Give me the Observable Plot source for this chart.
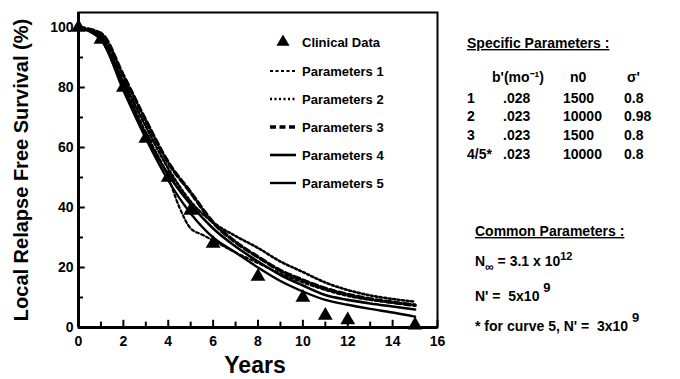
<!DOCTYPE html>
<html>
<head>
<meta charset="utf-8">
<script src="https://cdn.jsdelivr.net/npm/d3@7"></script>
<script src="https://cdn.jsdelivr.net/npm/@observablehq/plot@0.6"></script>
<style>
  html, body { margin: 0; padding: 0; background: #fff; }
  svg { display: block; }
</style>
</head>
<body>
<div id="chart"></div>
<script>
// ---- Data ----
const majorXTicks = [0, 2, 4, 6, 8, 10, 12, 14, 16];
const minorXTicks = [1, 3, 5, 7, 9, 11, 13, 15];
const majorYTicks = [0, 20, 40, 60, 80, 100];
const minorYTicks = [10, 30, 50, 70, 90];

const clinicalYears = [0, 1, 2, 3, 4, 5, 6, 8, 10, 11, 12, 15];
const clinicalSurvival = [100, 96, 80, 63, 50, 39, 28, 17, 10, 4, 2.5, 0.8];

const curveYears = [0, 1, 2, 3, 4, 5, 6, 7, 8, 9, 10, 11, 12, 13, 14, 15];
const p1Years = [0, 1, 2, 3, 4, 4.5, 5, 5.5, 6, 7, 8, 9, 10, 11, 12, 13, 14, 15];
const p1Survival = [100, 96, 81, 65, 50, 40, 33, 31, 29, 25, 21.5, 18, 15, 12.5, 10.5, 9.2, 8.3, 7.6];
const p2Survival = [100, 97, 82, 67, 53, 42, 35, 30.5, 26.5, 22, 18.5, 15, 12.5, 10.7, 9.5, 8.6];
const p3Survival = [100, 98, 84, 69, 55, 45, 35, 28.5, 23.5, 19, 15.8, 13, 11, 9.5, 8.4, 7.4];
const p4Survival = [100, 96, 80, 64, 51, 41, 33, 27, 22, 17.5, 14, 10.8, 9.2, 8, 7, 6];
const p5Survival = [100, 96, 79, 63, 49, 38, 30, 25, 20, 15.5, 12, 9.2, 7.6, 6.2, 5, 3.6];

const seriesNames = ["Parameters 1", "Parameters 2", "Parameters 3", "Parameters 4", "Parameters 5"];

const specHeader = ["b'(mo\u207B\u00B9)", "n0", "\u03C3'"];
const specRows = ["1", "2", "3", "4/5*"];
const specB = [".028", ".023", ".023", ".023"];
const specN0 = ["1500", "10000", "1500", "10000"];
const specSigma = ["0.8", "0.98", "0.8", "0.8"];

// ---- Build tables ----
const clinical = clinicalYears.map((x, i) => ({x, y: clinicalSurvival[i]}));
const toRows = (xs, ys) => xs.map((x, i) => ({x, y: ys[i]}));
const curves = [
  toRows(p1Years, p1Survival),
  toRows(curveYears, p2Survival),
  toRows(curveYears, p3Survival),
  toRows(curveYears, p4Survival),
  toRows(curveYears, p5Survival)
];

const styles = [
  {strokeWidth: 2.2, dash: "3,2.5"},
  {strokeWidth: 2.6, dash: "2,2.5"},
  {strokeWidth: 3.6, dash: "6,3.5"},
  {strokeWidth: 2.6, dash: null},
  {strokeWidth: 2.4, dash: null}
];
const drawOrder = [3, 4, 2, 0, 1];

const font = "Liberation Sans, Arial, Helvetica, sans-serif";

const plot = Plot.plot({
  width: 680,
  height: 379,
  marginLeft: 78,
  marginRight: 243,
  marginTop: 12,
  marginBottom: 52,
  style: {fontFamily: font, fontWeight: "bold", fontSize: "14px", color: "#000", background: "#fff"},
  x: {domain: [0, 16]},
  y: {domain: [0, 105]},
  marks: [
    Plot.frame({stroke: "#000", strokeWidth: 2}),
    Plot.axisX({ticks: majorXTicks, tickSize: 0, tickPadding: 9, fontSize: 14, fontWeight: "bold", label: null}),
    Plot.axisY({ticks: majorYTicks, tickSize: 0, tickPadding: 5, fontSize: 14, fontWeight: "bold", label: null}),
    // inward ticks (length in data units: ~7px and ~5px)
    Plot.ruleX(majorXTicks, {x: d => d, y1: 0, y2: 2.4, stroke: "#000", strokeWidth: 2}),
    Plot.ruleX(minorXTicks, {x: d => d, y1: 0, y2: 1.8, stroke: "#000", strokeWidth: 2}),
    Plot.ruleY(majorYTicks, {y: d => d, x1: 0, x2: 0.3, stroke: "#000", strokeWidth: 2}),
    Plot.ruleY(minorYTicks, {y: d => d, x1: 0, x2: 0.22, stroke: "#000", strokeWidth: 2}),
    Plot.ruleY([0], {stroke: "#000", strokeWidth: 3}),
    Plot.ruleX([0], {stroke: "#000", strokeWidth: 3}),
    ...drawOrder.map(i => Plot.line(curves[i], {
      x: "x", y: "y", curve: "monotone-x", stroke: "#000", strokeWidth: styles[i].strokeWidth,
      ...(styles[i].dash ? {strokeDasharray: styles[i].dash} : {})
    })),
    Plot.dot(clinical, {x: "x", y: "y", symbol: "triangle", r: 5.5, fill: "#000", stroke: "none"})
  ]
});

document.getElementById("chart").appendChild(plot);
const svg = d3.select(plot);

// ---- Annotations (axis titles, legend, parameter text) ----
const g = svg.append("g").attr("font-family", font).attr("font-weight", "bold")
  .attr("fill", "#000").attr("text-anchor", "start");

g.append("text")
  .attr("transform", "translate(28,170) rotate(-90)")
  .attr("text-anchor", "middle")
  .attr("font-size", 20)
  .text("Local Relapse Free Survival (%)");

g.append("text")
  .attr("x", 255).attr("y", 373)
  .attr("text-anchor", "middle")
  .attr("font-size", 23)
  .text("Years");

// Legend
const legX0 = 270, legX1 = 296, legText = 302;
const legYs = [42, 71, 99, 127, 155, 183];
g.append("path")
  .attr("d", d3.symbol(d3.symbolTriangle, 75)())
  .attr("transform", `translate(283,${legYs[0]})`);
g.append("text").attr("x", legText).attr("y", legYs[0]).attr("dy", "0.36em")
  .attr("font-size", 13).text("Clinical Data");
seriesNames.forEach((name, i) => {
  const y = legYs[i + 1];
  g.append("line").attr("x1", legX0).attr("x2", legX1).attr("y1", y).attr("y2", y)
    .attr("stroke", "#000").attr("stroke-width", styles[i].strokeWidth)
    .attr("stroke-dasharray", styles[i].dash || null);
  g.append("text").attr("x", legText).attr("y", y).attr("dy", "0.36em")
    .attr("font-size", 13).text(name);
});

// Specific parameters
g.append("text").attr("x", 467).attr("y", 48).attr("font-size", 14)
  .attr("text-decoration", "underline").text("Specific Parameters :");
g.append("text").attr("x", 492).attr("y", 82).attr("font-size", 14).text(specHeader[0]);
g.append("text").attr("x", 570).attr("y", 82).attr("font-size", 14).text(specHeader[1]);
g.append("text").attr("x", 627).attr("y", 82).attr("font-size", 14).text(specHeader[2]);
const rowYs = [103, 121, 140, 159];
specRows.forEach((r, i) => {
  const y = rowYs[i];
  g.append("text").attr("x", 467).attr("y", y).attr("font-size", 14).text(r);
  g.append("text").attr("x", 503).attr("y", y).attr("font-size", 14).text(specB[i]);
  g.append("text").attr("x", 563).attr("y", y).attr("font-size", 14).text(specN0[i]);
  g.append("text").attr("x", 624).attr("y", y).attr("font-size", 14).text(specSigma[i]);
});

// Common parameters
g.append("text").attr("x", 475).attr("y", 236).attr("font-size", 14)
  .attr("text-decoration", "underline").text("Common Parameters :");
const t1 = g.append("text").attr("x", 475).attr("y", 266).attr("font-size", 14);
t1.append("tspan").text("N");
t1.append("tspan").attr("dy", 5).attr("font-size", 12).text("\u221E");
t1.append("tspan").attr("dy", -5).text(" = 3.1 x 10");
t1.append("tspan").attr("dy", -6).attr("font-size", 11).text("12");

const t2 = g.append("text").attr("x", 475).attr("y", 301).attr("font-size", 14);
t2.append("tspan").text("N' =  5x10 ");
t2.append("tspan").attr("dy", -9).attr("font-size", 13).text("9");

const t3 = g.append("text").attr("x", 475).attr("y", 331).attr("font-size", 14);
t3.append("tspan").text("* for curve 5, N' =  3x10 ");
t3.append("tspan").attr("dy", -9).attr("font-size", 13).text("9");
</script>
</body>
</html>
